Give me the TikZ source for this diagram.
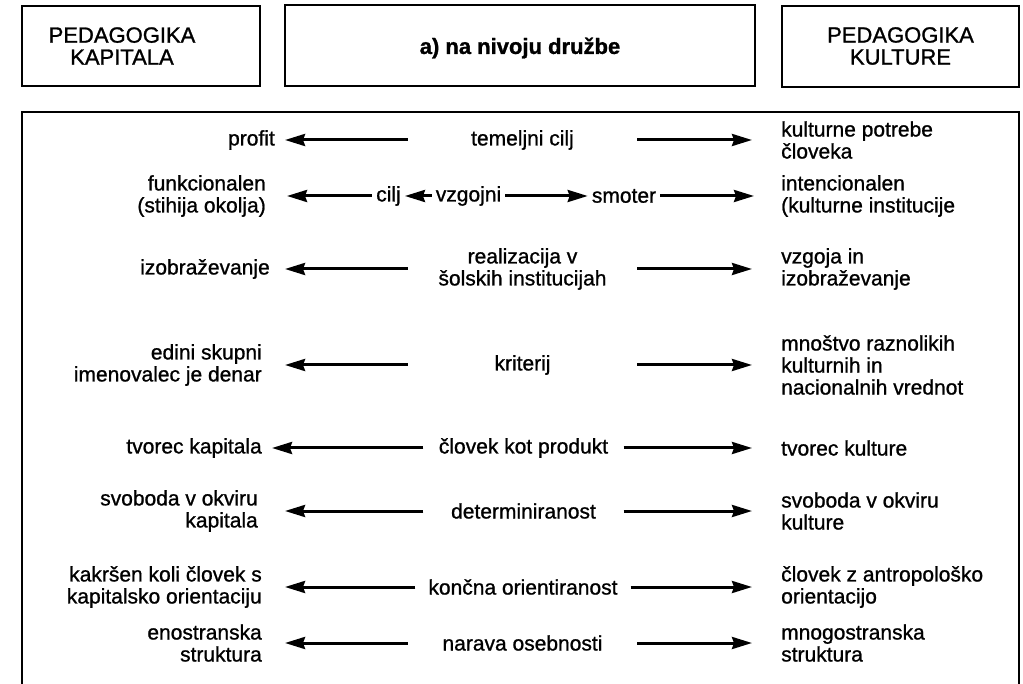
\documentclass[tikz,border=0pt]{standalone}
\usepackage{fontspec}
\setmainfont{Liberation Sans}[FakeBold=1.2]
\newfontfamily\bodyfont{Liberation Sans}[FakeBold=1.0]
\newfontfamily\capsfont{Liberation Sans}[FakeBold=1.2]
\usetikzlibrary{arrows.meta}
\begin{document}
\begin{tikzpicture}[x=1pt,y=-1pt,
  boxline/.style={draw, line width=2.4pt},
  headbox/.style={boxline, inner sep=0pt},
  captext/.style={font=\capsfont\fontsize{22}{22}\selectfont, align=center, inner sep=0pt},
  titletext/.style={font=\bfseries\fontsize{22}{26}\selectfont, inner sep=0pt},
  body/.style={font=\bodyfont\fontsize{21}{22}\selectfont, inner ysep=0pt},
  lefttxt/.style={body, anchor=east, align=right, inner xsep=20pt},
  righttxt/.style={body, anchor=west, align=left, inner xsep=29pt},
  midtxt/.style={body, align=center, inner xsep=0pt, minimum width=229pt},
  word/.style={body, inner xsep=4pt},
  arr/.style={line width=3pt, -{Stealth[length=20pt,width=12pt,inset=2pt]}},
]
\useasboundingbox (0,0) rectangle (1023,684);

% header boxes
\node[headbox, minimum width=238pt, minimum height=80pt] (kapbox) at (141,46) {};
\node[captext] (kaptitle) at (122,46) {PEDAGOGIKA\\KAPITALA};
\node[headbox, minimum width=470pt, minimum height=81pt] (levelbox) at (520,45.5) {};
\node[titletext] (leveltitle) at (520,48) {a) na nivoju družbe};
\node[headbox, minimum width=237pt, minimum height=81pt] (kulbox) at (900.5,46.5) {};
\node[captext] (kultitle) at (900.5,46) {PEDAGOGIKA\\KULTURE};

% open frame around the comparison
\draw[boxline] (22,684) -- (22,112) -- (1019,112) -- (1019,684);

% row 1
\node[lefttxt, inner xsep=10pt] (l1) at (285,140) {profit};
\node[midtxt] (c1) at (522.5,140) {temeljni cilj};
\node[righttxt] (r1) at (752,140) {kulturne potrebe\\človeka};
\draw[arr] (c1) -- (l1);
\draw[arr] (c1) -- (r1);

% row 2
\node[lefttxt, inner xsep=21pt] (l2) at (287,196) {funkcionalen\\(stihija okolja)};
\node[word] (cilj) at (388.5,196) {cilj};
\node[word] (vzg) at (468.5,196) {vzgojni};
\node[word] (smo) at (624,196) {smoter};
\node[righttxt, inner xsep=27pt] (r2) at (754,196) {intencionalen\\(kulturne institucije};
\draw[arr] (cilj) -- (l2);
\draw[arr] (vzg) -- (cilj);
\draw[arr] (vzg) -- (smo);
\draw[arr] (smo) -- (r2);

% row 3
\node[lefttxt, inner xsep=15pt] (l3) at (285,269) {izobraževanje};
\node[midtxt] (c3) at (522.5,269) {realizacija v\\šolskih institucijah};
\node[righttxt] (r3) at (752,269) {vzgoja in\\izobraževanje};
\draw[arr] (c3) -- (l3);
\draw[arr] (c3) -- (r3);

% row 4
\node[lefttxt, inner xsep=23pt] (l4) at (285,365) {edini skupni\\imenovalec je denar};
\node[midtxt] (c4) at (522.5,365) {kriterij};
\node[righttxt] (r4) at (752,365) {mnoštvo raznolikih\\kulturnih in\\nacionalnih vrednot};
\draw[arr] (c4) -- (l4);
\draw[arr] (c4) -- (r4);

% row 5
\node[lefttxt, inner xsep=10pt] (l5) at (272,448) {tvorec kapitala};
\node[midtxt, minimum width=200pt] (c5) at (523.5,448) {človek kot produkt};
\node[righttxt] (r5) at (752,448) {tvorec kulture};
\draw[arr] (c5) -- (l5);
\draw[arr] (c5) -- (r5);

% row 6
\node[lefttxt, inner xsep=27pt] (l6) at (285,511) {svoboda v okviru\\kapitala};
\node[midtxt, minimum width=200pt] (c6) at (523.5,511) {determiniranost};
\node[righttxt] (r6) at (752,511) {svoboda v okviru\\kulture};
\draw[arr] (c6) -- (l6);
\draw[arr] (c6) -- (r6);

% row 7
\node[lefttxt, inner xsep=23pt] (l7) at (285,587) {kakršen koli človek s\\kapitalsko orientaciju};
\node[midtxt, minimum width=215pt] (c7) at (523,587) {končna orientiranost};
\node[righttxt] (r7) at (752,587) {človek z antropološko\\orientacijo};
\draw[arr] (c7) -- (l7);
\draw[arr] (c7) -- (r7);

% row 8
\node[lefttxt, inner xsep=23pt] (l8) at (285,643) {enostranska\\struktura};
\node[midtxt] (c8) at (522.5,643) {narava osebnosti};
\node[righttxt] (r8) at (752,643) {mnogostranska\\struktura};
\draw[arr] (c8) -- (l8);
\draw[arr] (c8) -- (r8);
\end{tikzpicture}
\end{document}
